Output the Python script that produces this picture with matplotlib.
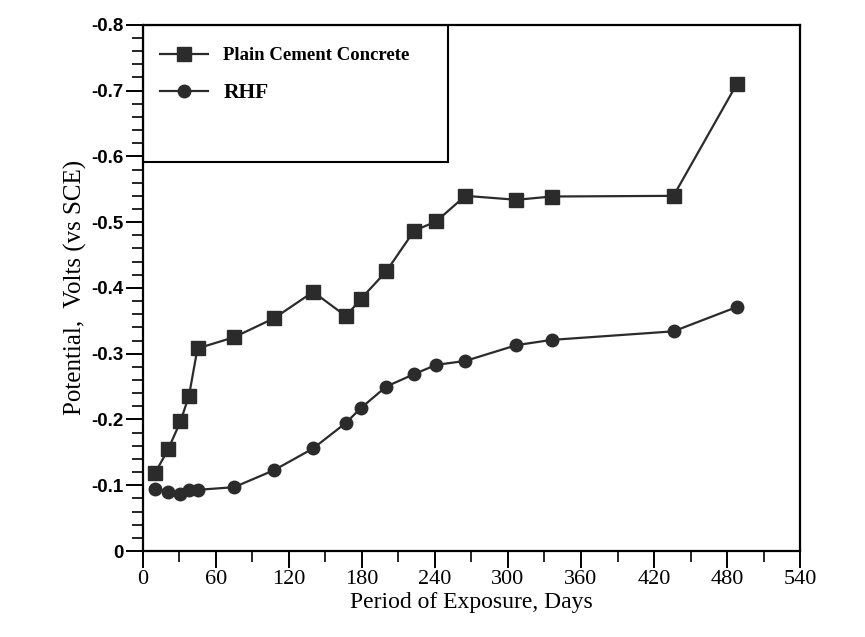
import matplotlib
matplotlib.use("Agg")
from matplotlib import pyplot as plt
from matplotlib.patches import Rectangle
from matplotlib.ticker import MultipleLocator
import numpy as np

# exposure period (days), shared by both series
days = [10, 21, 31, 38, 45, 75, 108, 140, 167, 179, 200, 223, 241, 265, 307, 336, 436, 488]

# potential, volts vs SCE
plain_cement = [-0.118, -0.155, -0.197, -0.236, -0.308, -0.325, -0.354, -0.394, -0.357,
                -0.383, -0.425, -0.487, -0.501, -0.540, -0.534, -0.539, -0.540, -0.710]
rhf = [-0.094, -0.090, -0.086, -0.093, -0.093, -0.097, -0.123, -0.156, -0.195,
       -0.217, -0.250, -0.269, -0.283, -0.289, -0.313, -0.321, -0.334, -0.371]

series_labels = ["Plain Cement Concrete", "RHF"]
x_ticks = [0, 60, 120, 180, 240, 300, 360, 420, 480, 540]
y_ticks = [0, -0.1, -0.2, -0.3, -0.4, -0.5, -0.6, -0.7, -0.8]
y_ticklabels = ["0", "-0.1", "-0.2", "-0.3", "-0.4", "-0.5", "-0.6", "-0.7", "-0.8"]

ink = "#2b2b2b"

fig = plt.figure(figsize=(8.65, 6.37), dpi=100)
ax = fig.add_axes([0.165, 0.135, 0.76, 0.826])

ax.plot(days, plain_cement, color=ink, lw=1.6, marker="s", ms=10,
        mfc=ink, mec=ink, label=series_labels[0])
ax.plot(days, rhf, color=ink, lw=1.6, marker="o", ms=9,
        mfc=ink, mec=ink, label=series_labels[1])

ax.set_xlim(0, 540)
ax.set_ylim(0, -0.8)
ax.set_xticks(x_ticks)
ax.set_xticklabels([str(t) for t in x_ticks], fontfamily="Liberation Serif", fontsize=16)
ax.set_yticks(y_ticks)
ax.set_yticklabels(y_ticklabels, fontfamily="Liberation Sans", fontweight="bold", fontsize=13.5)
ax.xaxis.set_minor_locator(MultipleLocator(30))
ax.yaxis.set_minor_locator(MultipleLocator(0.02))
ax.tick_params(which="major", direction="out", length=12, width=1.4, color="black")
ax.tick_params(which="minor", direction="out", length=8, width=1.2, color="black")
ax.tick_params(axis="x", pad=2)
ax.tick_params(axis="y", pad=2)

for sp in ax.spines.values():
    sp.set_linewidth(1.6)
    sp.set_color("black")

ax.set_xlabel("Period of Exposure, Days", fontfamily="Liberation Serif", fontsize=17, labelpad=2)
ax.set_ylabel("Potential,  Volts (vs SCE)", fontfamily="Liberation Serif", fontsize=18, labelpad=3)

# legend box in the upper-left corner
ax.add_patch(Rectangle((0, 1 - 0.26), 0.464, 0.26, transform=ax.transAxes,
                       fill=False, edgecolor="black", lw=1.5, zorder=5))
leg = ax.legend(loc="upper left", bbox_to_anchor=(0.0, 0.99), frameon=False,
                handlelength=2.6, handletextpad=0.8, labelspacing=1.0,
                prop={"family": "Liberation Serif", "weight": "bold", "size": 13.5})
leg.get_texts()[1].set_fontsize(15.5)

fig.savefig("out.png", dpi=100, facecolor="white")
